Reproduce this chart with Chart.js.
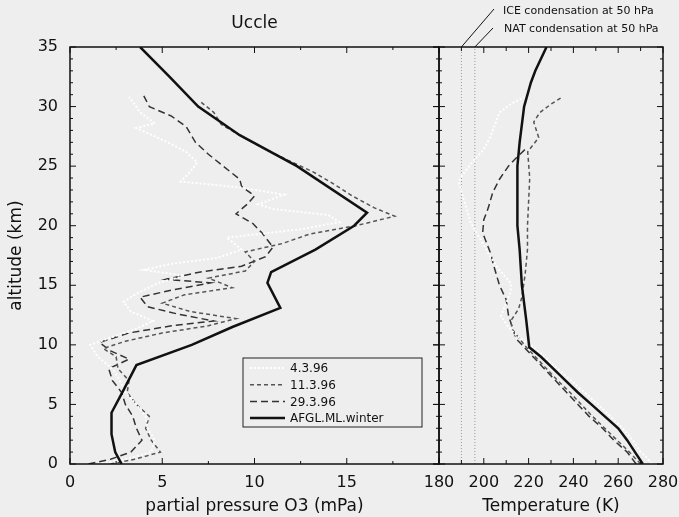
<!DOCTYPE html>
<html lang="en">
<head>
<meta charset="UTF-8">
<title>Uccle ozone and temperature profiles</title>
<script src="https://cdn.jsdelivr.net/npm/chart.js"></script>
<style>
  html, body { margin: 0; padding: 0; background: #eeeeee; }
  .chart-container { width: 679px; height: 517px; position: relative; }
</style>
</head>
<body>

<div class="chart-container">
  <canvas id="profile-chart" width="679" height="517"></canvas>
</div>

<script>
// ozone partial pressure (mPa) against altitude (km)
const altO3Afgl = [0, 1, 2.5, 4.3, 6.2, 8.3, 10, 11.5, 13.1, 15.2, 16.1, 18, 20, 21.1, 25, 27.6, 30, 32.5, 35];
const o3Afgl    = [2.8, 2.45, 2.25, 2.25, 2.9, 3.6, 6.6, 8.8, 11.4, 10.7, 10.9, 13.3, 15.4, 16.1, 12.3, 9.2, 6.95, 5.4, 3.8];

const altO3_0403 = [0, 0.4, 1, 2, 3, 4, 5, 6, 7, 8, 9, 10, 10.6, 11.3, 12, 12.8, 13.6, 14.3, 15.2, 15.8, 16.3, 16.8, 17.3, 18, 19, 19.7, 20.3, 20.9, 21.4, 21.8, 22.6, 23.2, 23.7, 24.5, 25.3, 26.2, 27, 28.2, 28.6, 29.5, 30.2, 30.8];
const o3_0403    = [1.5, 3.0, 4.4, 4.6, 4.2, 4.1, 3.6, 3.0, 2.7, 2.3, 1.5, 1.1, 2.2, 3.5, 4.5, 3.3, 2.9, 3.6, 4.8, 6.2, 4.0, 5.5, 8.0, 9.3, 8.5, 12.5, 14.6, 14.0, 11.0, 10.2, 11.6, 9.3, 6.0, 6.5, 6.9, 6.3, 5.3, 3.6, 4.6, 3.8, 3.5, 3.2];

const altO3_1103 = [0, 0.4, 1, 2, 3, 4, 5, 6, 7, 8, 9, 9.7, 10.3, 11, 11.6, 12.2, 12.8, 13.5, 14.2, 14.8, 15.6, 16.2, 17, 17.8, 18.5, 19.3, 20, 20.8, 21.5, 22.5, 23.5, 24.5, 25.5, 26.5, 27.5, 28.5, 29.5, 30.5];
const o3_1103    = [2.2, 3.5, 4.9, 4.4, 4.1, 4.3, 3.6, 3.1, 3.2, 2.6, 2.5, 1.8, 3.0, 5.0, 7.5, 9.0, 6.5, 5.0, 6.2, 8.8, 7.5, 9.5, 10.0, 9.5, 11.5, 13.0, 15.5, 17.6, 16.5, 15.3, 14.3, 13.2, 11.8, 10.5, 9.3, 8.2, 7.8, 7.0];

const altO3_2903 = [0, 0.4, 1, 2, 3, 4, 5, 6, 7, 8, 8.8, 9.5, 10.2, 11, 11.6, 12, 12.6, 13.2, 14, 14.6, 15.2, 15.5, 16.1, 16.6, 17.4, 18.2, 19.4, 20.2, 21, 21.8, 22.5, 23.3, 23.9, 25, 26, 27, 28.3, 29.2, 30, 30.9];
const o3_2903    = [1.0, 2.2, 3.3, 3.9, 3.6, 3.4, 3.0, 2.8, 2.3, 2.1, 3.2, 2.2, 1.6, 3.2, 5.5, 7.8, 5.8, 4.2, 3.8, 5.5, 7.6, 5.2, 7.0, 9.3, 10.6, 11.0, 10.4, 9.9, 9.0, 9.6, 10.0, 9.3, 9.2, 8.3, 7.5, 6.8, 6.3, 5.5, 4.3, 4.0];

// temperature (K) against altitude (km)
const altTAfgl = [0, 1, 2, 3, 4, 5, 6, 7, 8, 9, 9.8, 12, 15, 18, 20, 25, 27, 30, 32, 33, 35];
const tAfgl    = [271, 267.5, 264, 260, 254, 248, 242, 236.5, 231, 225.5, 220.3, 219, 217, 216, 215, 215, 216, 218, 221, 223, 228];

const altT_0403 = [0, 0.5, 1, 2, 3, 4, 5, 6, 7, 8, 9, 10, 10.7, 11.5, 12.4, 13.5, 14.5, 15.2, 16.5, 17.7, 18.8, 20.3, 21.3, 22.2, 23.6, 24.1, 25.5, 26.4, 27.5, 28.5, 29.5, 30.2, 30.8];
const t_0403    = [275, 273, 270, 266.5, 262, 256.5, 251, 245, 239, 233, 227, 221, 215, 211, 207.6, 210, 212, 212, 206, 202, 198.7, 194, 192.5, 191, 189, 189.8, 195.6, 200, 203, 205, 207, 212, 218];

const altT_1103 = [0, 1, 2, 3, 4, 5, 6, 7, 8, 9, 9.8, 10.5, 11.2, 12, 13, 14, 16, 18, 20, 22, 24, 26.2, 27.4, 28.7, 29.5, 30.2, 30.8];
const t_1103    = [270, 265, 259.5, 254, 248.5, 243.5, 238.5, 233, 228, 223, 219, 216, 213, 212, 215.5, 217, 218.5, 219.5, 219.5, 220, 220.5, 219.6, 224.5, 222.3, 225, 230, 235];

const altT_2903 = [0, 1, 2, 3, 4, 5, 6, 7, 8, 9, 10, 10.5, 11.3, 12.5, 13.8, 15, 16.6, 17.7, 19.4, 20.5, 21.5, 22.8, 23.9, 25, 25.8, 26.5];
const t_2903    = [268, 264, 258, 253, 247, 242, 237, 232, 227, 222, 217, 214.5, 213, 211, 210, 207, 204.5, 203, 199.5, 200, 202, 204, 207, 211, 215, 219];

// condensation temperatures at 50 hPa
const tIce = 190;
const tNat = 196;
const altRange = [0, 35];

const ozoneTicks = [0, 5, 10, 15, 20];
const tempTicks = [180, 200, 220, 240, 260, 280];

const pts = (alts, vals) => vals.map((v, i) => ({ x: v, y: alts[i] }));

const ink = '#111111';
const fontFamily = '"DejaVu Sans", "Liberation Sans", sans-serif';

// frame, inward ticks, legend box and the text notes
const decorations = {
  id: 'decorations',
  afterDraw(chart) {
    const { ctx, chartArea: a, scales } = chart;
    const xO = scales.xO, xT = scales.xT, y = scales.y;
    const line = (x0, y0, x1, y1) => { ctx.beginPath(); ctx.moveTo(x0, y0); ctx.lineTo(x1, y1); ctx.stroke(); };
    ctx.save();
    ctx.strokeStyle = ink;

    // altitude ticks
    ctx.lineWidth = 1;
    for (let k = altRange[0]; k <= altRange[1]; k++) {
      const py = y.getPixelForValue(k);
      const major = k % 5 === 0;
      const len = major ? 6 : 3;
      line(xO.left, py, xO.left + len, py);
      if (major) line(xO.right - len, py, xO.right, py);
      line(xT.left - len, py, xT.left + len, py);
      line(xT.right - len, py, xT.right, py);
    }
    // ozone ticks
    for (let v = 0; v <= 20; v += 2.5) {
      const px = xO.getPixelForValue(v);
      const len = v % 5 === 0 ? 6 : 3;
      line(px, a.bottom, px, a.bottom - len);
      line(px, a.top, px, a.top + len);
    }
    // temperature ticks
    for (let v = 180; v <= 280; v += 10) {
      const px = xT.getPixelForValue(v);
      const len = v % 20 === 0 ? 6 : 4;
      line(px, a.bottom, px, a.bottom - len);
      line(px, a.top, px, a.top + len);
    }

    // panel frames
    ctx.lineWidth = 1.5;
    ctx.strokeRect(xO.left, a.top, xO.right - xO.left, a.bottom - a.top);
    ctx.strokeRect(xT.left, a.top, xT.right - xT.left, a.bottom - a.top);

    // title over the ozone panel
    ctx.fillStyle = ink;
    ctx.font = '17px ' + fontFamily;
    ctx.textAlign = 'center';
    ctx.textBaseline = 'middle';
    ctx.fillText('Uccle', (xO.left + xO.right) / 2, 24);

    // legend box inside the ozone panel
    const bx = 243, by = 358, bw = 179, bh = 69;
    ctx.fillStyle = '#eeeeee';
    ctx.fillRect(bx, by, bw, bh);
    ctx.lineWidth = 1;
    ctx.strokeStyle = '#222';
    ctx.strokeRect(bx, by, bw, bh);
    const order = ['4.3.96', '11.3.96', '29.3.96', 'AFGL.ML.winter'];
    ctx.font = '12px ' + fontFamily;
    ctx.textAlign = 'left';
    order.forEach((lab, i) => {
      const ds = chart.data.datasets.find(d => d.label === lab && d.xAxisID === 'xO');
      const ly = by + 10 + i * 16.7;
      ctx.save();
      ctx.strokeStyle = ds.borderColor;
      ctx.lineWidth = ds.borderWidth;
      ctx.setLineDash(ds.borderDash || []);
      line(bx + 7, ly, bx + 42, ly);
      ctx.restore();
      ctx.fillStyle = ink;
      ctx.fillText(lab, bx + 47, ly + 1);
    });

    // condensation notes with leader lines
    ctx.font = '11px ' + fontFamily;
    ctx.fillStyle = ink;
    ctx.fillText('ICE condensation at 50 hPa', 503, 11);
    ctx.fillText('NAT condensation at 50 hPa', 504, 29);
    ctx.strokeStyle = ink;
    ctx.lineWidth = 1;
    line(494, 9, xT.getPixelForValue(tIce), a.top);
    line(493, 28, xT.getPixelForValue(tNat), a.top);

    ctx.restore();
  }
};

const tickFont = { family: fontFamily, size: 16 };
const titleFont = { family: fontFamily, size: 17 };

// keep the panels at fixed size, labels may overhang
const fixBottom = s => { s.height = 53; s.paddingLeft = 0; s.paddingRight = 0; };

const ctxProfile = document.getElementById('profile-chart').getContext('2d');
const profileChart = new Chart(ctxProfile, {
  type: 'line',
  data: {
    datasets: [
      // ozone panel
      { label: 'AFGL.ML.winter', xAxisID: 'xO', data: pts(altO3Afgl, o3Afgl), borderColor: '#111', borderWidth: 2.5 },
      { label: '4.3.96', xAxisID: 'xO', data: pts(altO3_0403, o3_0403), borderColor: '#ffffff', borderWidth: 2, borderDash: [2, 2] },
      { label: '11.3.96', xAxisID: 'xO', data: pts(altO3_1103, o3_1103), borderColor: '#555', borderWidth: 1.5, borderDash: [4, 3] },
      { label: '29.3.96', xAxisID: 'xO', data: pts(altO3_2903, o3_2903), borderColor: '#333', borderWidth: 1.5, borderDash: [7, 4] },
      // temperature panel
      { label: 'AFGL.ML.winter', xAxisID: 'xT', data: pts(altTAfgl, tAfgl), borderColor: '#111', borderWidth: 2.5 },
      { label: '4.3.96', xAxisID: 'xT', data: pts(altT_0403, t_0403), borderColor: '#ffffff', borderWidth: 2, borderDash: [2, 2] },
      { label: '11.3.96', xAxisID: 'xT', data: pts(altT_1103, t_1103), borderColor: '#555', borderWidth: 1.5, borderDash: [4, 3] },
      { label: '29.3.96', xAxisID: 'xT', data: pts(altT_2903, t_2903), borderColor: '#333', borderWidth: 1.5, borderDash: [7, 4] },
      { label: 'ICE', xAxisID: 'xT', data: pts(altRange, [tIce, tIce]), borderColor: '#999', borderWidth: 1, borderDash: [1, 2] },
      { label: 'NAT', xAxisID: 'xT', data: pts(altRange, [tNat, tNat]), borderColor: '#999', borderWidth: 1, borderDash: [1, 2] }
    ]
  },
  options: {
    responsive: false,
    animation: false,
    layout: { padding: { top: 47, right: 16, left: 0, bottom: 0 } },
    elements: { point: { radius: 0 }, line: { tension: 0, fill: false } },
    scales: {
      y: {
        type: 'linear', position: 'left', min: altRange[0], max: altRange[1],
        ticks: { stepSize: 5, font: tickFont, color: ink, padding: 12 },
        grid: { display: false, drawTicks: false },
        border: { display: false },
        title: { display: true, text: 'altitude (km)', font: titleFont, color: ink, padding: { top: 6, bottom: 0 } },
        afterFit(s) { s.width = 70; s.paddingTop = 0; s.paddingBottom = 0; }
      },
      xO: {
        type: 'linear', position: 'bottom', stack: 'panels', stackWeight: 369,
        min: ozoneTicks[0], max: ozoneTicks[ozoneTicks.length - 1],
        afterBuildTicks(s) { s.ticks = ozoneTicks.map(v => ({ value: v })); },
        ticks: { font: tickFont, color: ink, padding: 9, maxRotation: 0, autoSkip: false, callback: v => (v === 20 ? '' : v) },
        grid: { display: false, drawTicks: false },
        border: { display: false },
        title: { display: true, text: 'partial pressure O3 (mPa)', font: titleFont, color: ink, padding: 0 },
        afterFit: fixBottom
      },
      xT: {
        type: 'linear', position: 'bottom', stack: 'panels', stackWeight: 224,
        min: tempTicks[0], max: tempTicks[tempTicks.length - 1],
        afterBuildTicks(s) { s.ticks = tempTicks.map(v => ({ value: v })); },
        ticks: { font: tickFont, color: ink, padding: 9, maxRotation: 0, autoSkip: false },
        grid: { display: false, drawTicks: false },
        border: { display: false },
        title: { display: true, text: 'Temperature (K)', font: titleFont, color: ink, padding: 0 },
        afterFit: fixBottom
      }
    },
    plugins: {
      legend: { display: false },
      tooltip: { enabled: false },
      title: { display: false }
    }
  },
  plugins: [decorations]
});
</script>

</body>
</html>
